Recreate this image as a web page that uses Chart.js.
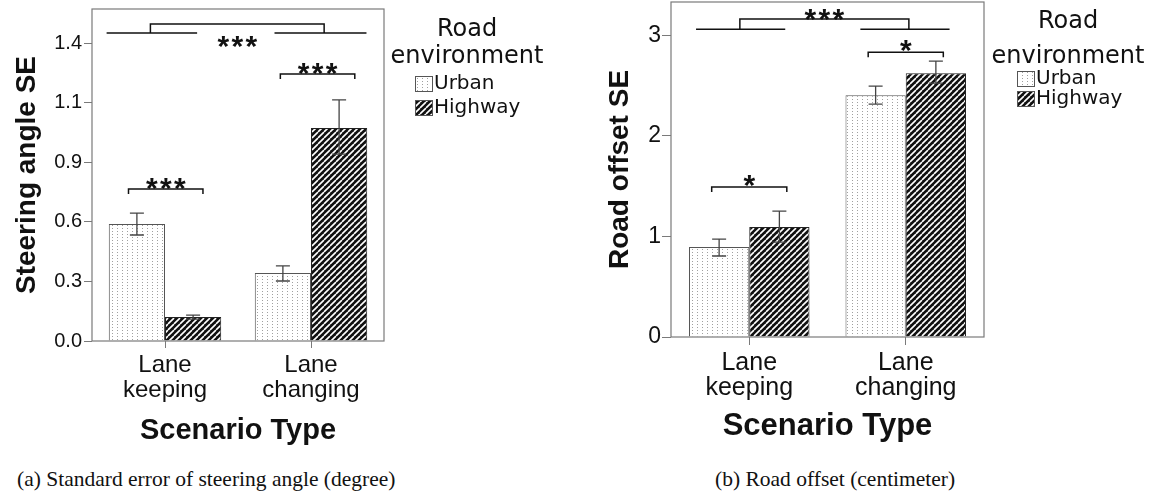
<!DOCTYPE html>
<html>
<head>
<meta charset="utf-8">
<script src="https://cdn.jsdelivr.net/npm/chart.js@4.4.1/dist/chart.umd.min.js"></script>
<style>
  body { margin: 0; background: #fff; width: 1153px; height: 499px; position: relative; overflow: hidden; }
  canvas { position: absolute; top: 0; }
  #chart-a { left: 0; }
  #chart-b { left: 580px; }
  .caption { position: absolute; top: 467px; font-family: 'Liberation Serif', serif; font-size: 21.5px; line-height: 24px; color: #111; white-space: nowrap; }
</style>
</head>
<body>
<canvas id="chart-a" width="580" height="460"></canvas>
<canvas id="chart-b" width="573" height="460"></canvas>
<div class="caption" style="left:17px">(a) Standard error of steering angle (degree)</div>
<div class="caption" style="left:715px">(b) Road offset (centimeter)</div>
<script>
// categories
const scenarios = [['Lane', 'keeping'], ['Lane', 'changing']];
const environments = ['Urban', 'Highway'];
const legendTitle = ['Road', 'environment'];

// (a) steering angle SE - means and error bar ends
const steerUrban = [0.560, 0.325];
const steerHighway = [0.115, 1.019];
const steerUrbanLow = [0.507, 0.287];
const steerUrbanHigh = [0.612, 0.359];
const steerHighwayLow = [0.105, 0.894];
const steerHighwayHigh = [0.124, 1.153];
const steerTicks = [0, 0.285, 0.57, 0.855, 1.14, 1.425];
const steerPairY = [0.727, 1.277];
const steerPairMarks = ['***', '***'];
const steerMainY = [1.473, 1.516];
const steerMainMark = '***';

// (b) road offset SE
const offsetUrban = [0.894, 2.404];
const offsetHighway = [1.093, 2.622];
const offsetUrbanLow = [0.805, 2.315];
const offsetUrbanHigh = [0.973, 2.493];
const offsetHighwayLow = [0.944, 2.523];
const offsetHighwayHigh = [1.252, 2.742];
const offsetTicks = [0, 1, 2, 3];
const offsetPairY = [1.49, 2.83];
const offsetPairMarks = ['*', '*'];
const offsetMainY = [3.06, 3.16];
const offsetMainMark = '***';

Chart.defaults.font.family = '"Liberation Sans", Arial, sans-serif';
Chart.defaults.color = '#111';

function dotPattern(ctx) {
    const c = document.createElement('canvas');
    c.width = 5; c.height = 3;
    const g = c.getContext('2d');
    g.fillStyle = '#fff'; g.fillRect(0, 0, 5, 3);
    g.fillStyle = '#a0a0a0'; g.fillRect(2, 0, 1, 1);
    return ctx.createPattern(c, 'repeat');
}

function stripePattern(ctx) {
    const s = 6;
    const c = document.createElement('canvas');
    c.width = s; c.height = s;
    const g = c.getContext('2d');
    g.fillStyle = '#111'; g.fillRect(0, 0, s, s);
    g.strokeStyle = '#fff'; g.lineWidth = 1.6;
    g.beginPath();
    [-s, 0, s].forEach(o => { g.moveTo(o, s); g.lineTo(o + s, 0); });
    g.stroke();
    return ctx.createPattern(c, 'repeat');
}

function drawStars(ctx, text, cx, cy) {
    ctx.font = 'bold 30px "Liberation Sans"';
    ctx.textAlign = 'center';
    ctx.textBaseline = 'alphabetic';
    const n = text.length, gap = 14;
    for (let i = 0; i < n; i++) ctx.fillText('*', cx + (i - (n - 1) / 2) * gap, cy + 17);
}

// error bars, frame, significance brackets and legend
function extrasPlugin(set) {
    return {
        id: 'extras',
        afterDatasetsDraw(chart) {
            const { ctx, chartArea: a, scales: { x, y } } = chart;
            const L = set.layout;
            ctx.save();

            ctx.strokeStyle = '#444';
            ctx.lineWidth = 1.3;
            set.low.forEach((lows, i) => {
                const bars = chart.getDatasetMeta(i).data;
                lows.forEach((lo, j) => {
                    const bx = bars[j].x;
                    const y0 = y.getPixelForValue(lo), y1 = y.getPixelForValue(set.high[i][j]);
                    ctx.beginPath();
                    ctx.moveTo(bx, y0); ctx.lineTo(bx, y1);
                    ctx.moveTo(bx - 7, y0); ctx.lineTo(bx + 7, y0);
                    ctx.moveTo(bx - 7, y1); ctx.lineTo(bx + 7, y1);
                    ctx.stroke();
                });
            });

            ctx.strokeStyle = '#7a7a7a';
            ctx.lineWidth = 1.2;
            ctx.strokeRect(a.left, a.top, a.right - a.left, a.bottom - a.top);

            ctx.strokeStyle = '#111';
            ctx.fillStyle = '#111';
            ctx.lineWidth = 1.5;
            set.pairY.forEach((v, j) => {
                const py = y.getPixelForValue(v);
                const x0 = x.getPixelForValue(j + L.pairSpan[j][0]);
                const x1 = x.getPixelForValue(j + L.pairSpan[j][1]);
                ctx.beginPath();
                ctx.moveTo(x0, py + 5); ctx.lineTo(x0, py); ctx.lineTo(x1, py); ctx.lineTo(x1, py + 5);
                ctx.stroke();
                drawStars(ctx, set.pairMarks[j], (x0 + x1) / 2, py - L.pairStarDy);
            });

            const ly = y.getPixelForValue(set.mainY[0]), ty = y.getPixelForValue(set.mainY[1]);
            const v0 = x.getPixelForValue(L.mainArm[0]), v1 = x.getPixelForValue(1 + L.mainArm[1]);
            ctx.beginPath();
            L.mainSeg.forEach((s, j) => {
                ctx.moveTo(x.getPixelForValue(j + s[0]), ly);
                ctx.lineTo(x.getPixelForValue(j + s[1]), ly);
            });
            ctx.moveTo(v0, ly); ctx.lineTo(v0, ty); ctx.lineTo(v1, ty); ctx.lineTo(v1, ly);
            ctx.stroke();
            drawStars(ctx, set.mainMark, (v0 + v1) / 2, (L.mainStarFromTop ? ty : ly) + L.mainStarDy);

            // legend
            const G = L.legend;
            ctx.fillStyle = '#111';
            ctx.font = '24px "DejaVu Sans"';
            ctx.textAlign = 'center';
            ctx.textBaseline = 'alphabetic';
            legendTitle.forEach((t, i) => ctx.fillText(t, G.cx, G.titleY[i]));
            ctx.font = '20px "DejaVu Sans"';
            ctx.textAlign = 'left';
            ctx.textBaseline = 'middle';
            environments.forEach((name, i) => {
                const top = G.itemY[i] - 8;
                ctx.fillStyle = chart.data.datasets[i].backgroundColor;
                ctx.fillRect(G.x, top, 18, 16);
                ctx.strokeStyle = '#555';
                ctx.lineWidth = 1;
                ctx.strokeRect(G.x + 0.5, top + 0.5, 17, 15);
                ctx.fillStyle = '#111';
                ctx.fillText(name, G.x + 19, G.itemY[i]);
            });
            ctx.restore();
        }
    };
}

function buildChart(id, opt) {
    const ctx = document.getElementById(id).getContext('2d');
    const fills = [dotPattern(ctx), stripePattern(ctx)];
    return new Chart(ctx, {
        type: 'bar',
        data: {
            labels: scenarios,
            datasets: opt.series.map((d, i) => ({
                label: environments[i],
                data: d,
                backgroundColor: fills[i],
                borderColor: i === 0 ? '#555' : '#222',
                borderWidth: 1,
                categoryPercentage: 0.77,
                barPercentage: 1
            }))
        },
        options: {
            responsive: false,
            animation: false,
            layout: { padding: opt.padding },
            plugins: { legend: { display: false }, tooltip: { enabled: false } },
            scales: {
                x: {
                    afterFit: axis => {
                        axis.height = opt.xHeight;
                        axis.paddingLeft = 0;
                        axis.paddingRight = 0;
                    },
                    border: { display: false },
                    grid: { offset: false, drawOnChartArea: false, tickLength: opt.xTick, color: '#7a7a7a' },
                    ticks: { padding: opt.xPad, maxRotation: 0, font: { size: opt.xFont, lineHeight: opt.xLine } },
                    title: { display: true, text: 'Scenario Type', font: { size: opt.xTitleFont, weight: 'bold' }, padding: { top: 0, bottom: opt.xTitlePad } }
                },
                y: {
                    min: 0,
                    max: opt.yMax,
                    afterBuildTicks: axis => { axis.ticks = opt.ticks.map(v => ({ value: v })); },
                    afterFit: axis => {
                        axis.width = opt.yWidth;
                        axis.paddingTop = 0;
                        axis.paddingBottom = 0;
                    },
                    border: { display: false },
                    grid: { drawOnChartArea: false, tickLength: opt.yTick, color: '#7a7a7a' },
                    ticks: { padding: opt.yPad, font: { size: opt.yFont }, callback: opt.fmt },
                    title: { display: true, text: opt.yTitle, font: { size: 28, weight: 'bold' }, padding: { top: opt.yTitlePad, bottom: 0 } }
                }
            }
        },
        plugins: [extrasPlugin(opt.extras)]
    });
}

buildChart('chart-a', {
    series: [steerUrban, steerHighway],
    ticks: steerTicks,
    yMax: 1.588,
    fmt: v => v.toFixed(1),
    yTitle: 'Steering angle SE',
    padding: { left: 0, right: 196, top: 9, bottom: 0 },
    xHeight: 119, xTick: 7, xPad: 5, xFont: 24, xLine: 1.05, xTitleFont: 29, xTitlePad: 11.6,
    yWidth: 92, yTick: 8, yPad: 2, yFont: 20, yTitlePad: 10,
    extras: {
        low: [steerUrbanLow, steerHighwayLow],
        high: [steerUrbanHigh, steerHighwayHigh],
        pairY: steerPairY, pairMarks: steerPairMarks,
        mainY: steerMainY, mainMark: steerMainMark,
        layout: {
            pairSpan: [[-0.25, 0.26], [-0.21, 0.3]], pairStarDy: 8,
            mainSeg: [[-0.4, 0.22], [-0.25, 0.38]], mainArm: [-0.1, 0.09],
            mainStarFromTop: false, mainStarDy: 6,
            legend: { cx: 467, titleY: [36, 63], x: 415, itemY: [84, 108] }
        }
    }
});

buildChart('chart-b', {
    series: [offsetUrban, offsetHighway],
    ticks: offsetTicks,
    yMax: 3.33,
    fmt: v => String(v),
    yTitle: 'Road offset SE',
    padding: { left: 0, right: 169, top: 2, bottom: 0 },
    xHeight: 123, xTick: 8, xPad: 5.5, xFont: 25, xLine: 1.0, xTitleFont: 31, xTitlePad: 15.4,
    yWidth: 91, yTick: 9, yPad: 1, yFont: 23, yTitlePad: 23,
    extras: {
        low: [offsetUrbanLow, offsetHighwayLow],
        high: [offsetUrbanHigh, offsetHighwayHigh],
        pairY: offsetPairY, pairMarks: offsetPairMarks,
        mainY: offsetMainY, mainMark: offsetMainMark,
        layout: {
            pairSpan: [[-0.24, 0.24], [-0.24, 0.24]], pairStarDy: 9,
            mainSeg: [[-0.34, 0.23], [-0.29, 0.28]], mainArm: [-0.06, 0.02],
            mainStarFromTop: true, mainStarDy: -7,
            legend: { cx: 488, titleY: [28, 63], x: 437, itemY: [79, 99] }
        }
    }
});
</script>
</body>
</html>
